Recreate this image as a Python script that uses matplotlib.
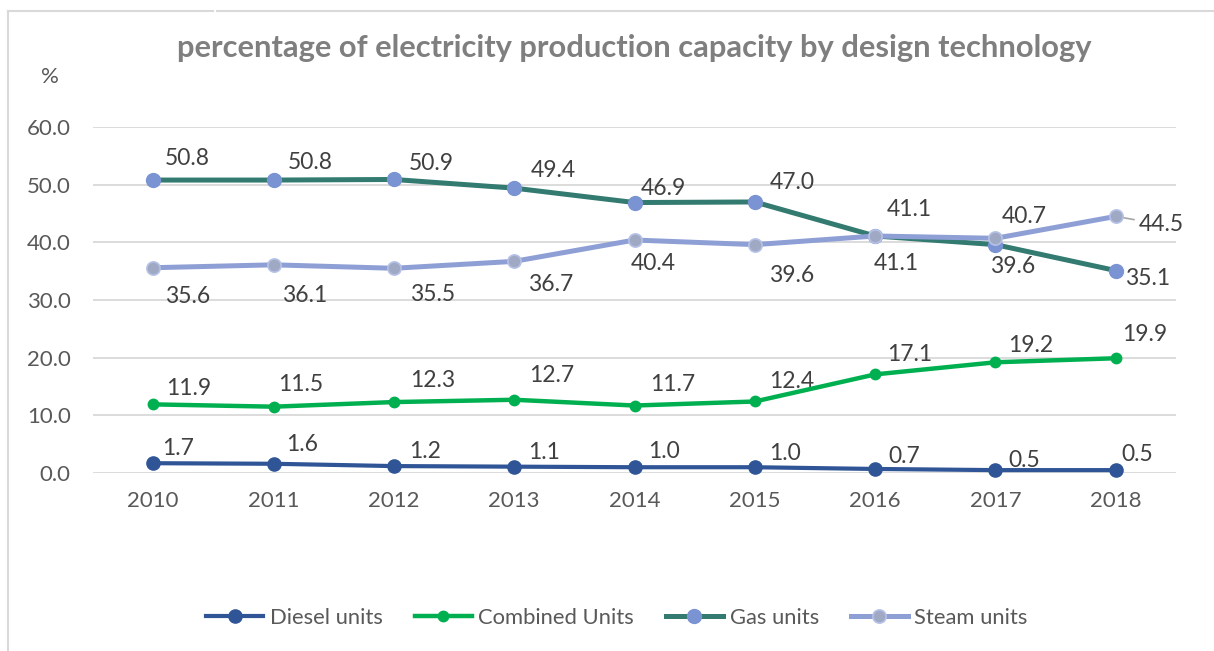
import matplotlib
matplotlib.use("Agg")
import matplotlib.pyplot as plt
from matplotlib.lines import Line2D

plt.rcParams["font.family"] = ["Lato", "DejaVu Sans"]

years = ["2010", "2011", "2012", "2013", "2014", "2015", "2016", "2017", "2018"]
diesel = [1.7, 1.6, 1.2, 1.1, 1.0, 1.0, 0.7, 0.5, 0.5]
combined = [11.9, 11.5, 12.3, 12.7, 11.7, 12.4, 17.1, 19.2, 19.9]
gas = [50.8, 50.8, 50.9, 49.4, 46.9, 47.0, 41.1, 39.6, 35.1]
steam = [35.6, 36.1, 35.5, 36.7, 40.4, 39.6, 41.1, 40.7, 44.5]
y_ticks = [0, 10, 20, 30, 40, 50, 60]

# label offsets in pixels (dx right, dy down)
diesel_off = [(25, -15), (29, -19), (31, -15), (30, -14), (29, -16), (30, -14), (29, -12), (29, -10), (21, -16)]
combined_off = [(36, -16), (27, -22), (39, -22), (38, -24), (38, -21), (37, -20), (35, -20), (35, -17), (29, -24)]
gas_off = [(34, -22), (37, -18), (37, -16), (39, -18), (29, -14), (37, -19), (34, -26), (17, 22), (32, 8)]
steam_off = [(34, 29), (31, 31), (39, 26), (36, 23), (19, 23), (37, 31), (21, 28), (29, -22), (45, 8)]

W, H = 1214, 651
fig = plt.figure(figsize=(W / 100, H / 100), dpi=100)
ax = fig.add_axes([93 / W, 1 - 473 / H, (1176 - 93) / W, (473 - 127) / H])

x = list(range(len(years)))
series = [
    ("Diesel units", diesel, diesel_off, dict(color="#2F5597", lw=3.0, marker="o", ms=9.5,
                                              mfc="#2F5597", mec="#2F5597")),
    ("Combined Units", combined, combined_off, dict(color="#00B050", lw=3.2, marker="o", ms=7.5,
                                                    mfc="#00B050", mec="#00B050")),
    ("Gas units", gas, gas_off, dict(color="#337B70", lw=3.6, marker="o", ms=10,
                                     mfc="#7A93D2", mec="#7A93D2")),
    ("Steam units", steam, steam_off, dict(color="#8E9FD5", lw=3.6, marker="o", ms=9.5,
                                           mfc="#A0A9C3", mec="#B5C1E6", mew=1.2)),
]

handles = []
for i, (name, vals, offs, st) in enumerate(series):
    ax.plot(x, vals, clip_on=False, zorder=3 + i, solid_capstyle="round", **st)
    handles.append(Line2D([0], [0], **st))
    for xi, v, (dx, dy) in zip(x, vals, offs):
        if name == "Steam units" and xi == 8:
            ax.annotate(f"{v:.1f}", xy=(xi, v), xytext=(dx, -dy), textcoords="offset pixels",
                        ha="center", va="center", fontsize=16.5, color="#404040",
                        arrowprops=dict(arrowstyle="-", color="#A6A6A6", lw=1.2,
                                        shrinkA=1, shrinkB=4.5))
        else:
            ax.annotate(f"{v:.1f}", xy=(xi, v), xytext=(dx, -dy), textcoords="offset pixels",
                        ha="center", va="center", fontsize=16.5, color="#404040")

ax.set_xlim(-0.5, len(years) - 0.5)
ax.set_ylim(0, 60)
ax.set_xticks(x)
ax.set_xticklabels(years)
ax.set_yticks(y_ticks)
ax.set_yticklabels([f"{t:.1f}" for t in y_ticks])
ax.tick_params(length=0, labelsize=16, labelcolor="#595959")
ax.tick_params(axis="y", pad=16)
ax.tick_params(axis="x", pad=13)
ax.grid(axis="y", color="#D9D9D9", lw=1.3)
ax.set_axisbelow(True)
for s in ax.spines.values():
    s.set_visible(False)

fig.text(50 / W, 1 - 77 / H, "%", fontsize=16, color="#595959", ha="center", va="center")

title = fig.text(634 / W, 1 - 48 / H,
                 "percentage of electricity production capacity by design technology",
                 fontsize=20, fontweight="bold", color="#7F7F7F", ha="center", va="center")
# fit the title to the width it has in the picture
fig.canvas.draw()
w = title.get_window_extent().width
title.set_fontsize(20 * 916 / w)

fig.legend(handles, [s[0] for s in series], loc="center", bbox_to_anchor=(617 / W, 1 - 618 / H),
           ncol=4, frameon=False, fontsize=15.8, labelcolor="#595959",
           handlelength=2.6, handletextpad=0.3, columnspacing=1.45)

# chart frame, top and left edges only
border = dict(color="#D9D9D9", lw=1.5, transform=fig.transFigure)
fig.add_artist(Line2D([8 / W, 213 / W], [1 - 11 / H, 1 - 11 / H], **border))
fig.add_artist(Line2D([217 / W, 1], [1 - 11 / H, 1 - 11 / H], **border))
fig.add_artist(Line2D([8 / W, 8 / W], [0, 1 - 11 / H], **border))

fig.savefig("out.png", dpi=100)
